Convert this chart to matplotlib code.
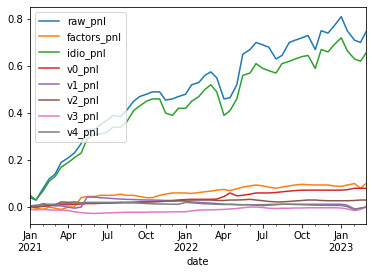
import matplotlib
matplotlib.use("Agg")
import matplotlib.pyplot as plt
import matplotlib.dates as mdates
import matplotlib.ticker as mticker
import numpy as np
import pandas as pd

# semi-monthly sample dates
dates = pd.to_datetime([
    "2021-01-01", "2021-01-15", "2021-02-01", "2021-02-15", "2021-03-01", "2021-03-15",
    "2021-04-01", "2021-04-15", "2021-05-01", "2021-05-15", "2021-06-01", "2021-06-15",
    "2021-07-01", "2021-07-15", "2021-08-01", "2021-08-15", "2021-09-01", "2021-09-15",
    "2021-10-01", "2021-10-15", "2021-11-01", "2021-11-15", "2021-12-01", "2021-12-15",
    "2022-01-01", "2022-01-15", "2022-02-01", "2022-02-15", "2022-03-01", "2022-03-15",
    "2022-04-01", "2022-04-15", "2022-05-01", "2022-05-15", "2022-06-01", "2022-06-15",
    "2022-07-01", "2022-07-15", "2022-08-01", "2022-08-15", "2022-09-01", "2022-09-15",
    "2022-10-01", "2022-10-15", "2022-11-01", "2022-11-15", "2022-12-01", "2022-12-15",
    "2023-01-01", "2023-01-15", "2023-02-01", "2023-02-15", "2023-02-28",
])

raw_pnl = [0.04, 0.03, 0.08, 0.12, 0.14, 0.19, 0.21, 0.23, 0.27, 0.33, 0.33, 0.35,
           0.37, 0.39, 0.385, 0.41, 0.45, 0.47, 0.48, 0.49, 0.49, 0.455, 0.46, 0.47,
           0.48, 0.52, 0.53, 0.56, 0.575, 0.55, 0.46, 0.465, 0.52, 0.65, 0.67, 0.70,
           0.69, 0.68, 0.63, 0.645, 0.70, 0.71, 0.72, 0.73, 0.67, 0.75, 0.74, 0.77,
           0.81, 0.75, 0.71, 0.70, 0.745]
factors_pnl = [0.0, -0.005, -0.01, 0.0, -0.005, -0.01, 0.0, 0.0, 0.04, 0.045, 0.045, 0.05,
               0.05, 0.05, 0.055, 0.05, 0.05, 0.045, 0.04, 0.04, 0.05, 0.055, 0.06, 0.06,
               0.06, 0.058, 0.062, 0.065, 0.068, 0.072, 0.075, 0.07, 0.078, 0.085, 0.09, 0.094,
               0.09, 0.085, 0.08, 0.085, 0.09, 0.094, 0.097, 0.095, 0.094, 0.094, 0.094, 0.09,
               0.088, 0.094, 0.10, 0.08, 0.10]
idio_pnl = [0.05, 0.03, 0.07, 0.11, 0.13, 0.17, 0.19, 0.21, 0.23, 0.29, 0.31, 0.31,
            0.32, 0.34, 0.34, 0.36, 0.41, 0.43, 0.45, 0.46, 0.46, 0.40, 0.39, 0.42,
            0.42, 0.45, 0.47, 0.50, 0.52, 0.49, 0.39, 0.41, 0.46, 0.56, 0.57, 0.61,
            0.59, 0.58, 0.57, 0.61, 0.62, 0.63, 0.64, 0.645, 0.59, 0.67, 0.66, 0.69,
            0.72, 0.665, 0.63, 0.62, 0.655]
v0_pnl = [0.0, 0.0, 0.003, 0.005, 0.008, 0.01, 0.01, 0.012, 0.013, 0.015, 0.015, 0.016,
          0.018, 0.018, 0.02, 0.02, 0.02, 0.022, 0.022, 0.024, 0.025, 0.027, 0.028, 0.03,
          0.032, 0.033, 0.033, 0.033, 0.033, 0.034, 0.045, 0.06, 0.048, 0.05, 0.055, 0.06,
          0.06, 0.06, 0.062, 0.065, 0.068, 0.07, 0.072, 0.072, 0.072, 0.072, 0.072, 0.072,
          0.072, 0.074, 0.08, 0.08, 0.08]
v1_pnl = [-0.005, 0.005, 0.015, 0.01, 0.005, 0.005, 0.0, -0.005, 0.0, 0.043, 0.042, 0.04,
          0.038, 0.036, 0.034, 0.033, 0.032, 0.031, 0.03, 0.03, 0.029, 0.028, 0.027, 0.027,
          0.025, 0.022, 0.02, 0.018, 0.017, 0.015, 0.012, 0.012, 0.011, 0.01, 0.01, 0.008,
          0.006, 0.008, 0.01, 0.012, 0.012, 0.012, 0.012, 0.012, 0.012, 0.012, 0.012, 0.012,
          0.012, 0.008, -0.008, -0.005, 0.0]
v2_pnl = [0.005, 0.0, 0.005, 0.008, 0.01, 0.022, 0.02, 0.022, 0.018, 0.018, 0.017, 0.016,
          0.017, 0.018, 0.018, 0.019, 0.02, 0.02, 0.022, 0.022, 0.023, 0.025, 0.026, 0.027,
          0.03, 0.03, 0.03, 0.03, 0.03, 0.028, 0.028, 0.03, 0.03, 0.031, 0.033, 0.03,
          0.027, 0.024, 0.022, 0.022, 0.024, 0.026, 0.028, 0.03, 0.03, 0.028, 0.027, 0.027,
          0.027, 0.027, 0.028, 0.03, 0.03]
v3_pnl = [-0.01, -0.012, -0.01, -0.012, -0.013, -0.013, -0.015, -0.02, -0.024, -0.026, -0.027, -0.026,
          -0.025, -0.024, -0.023, -0.022, -0.022, -0.022, -0.022, -0.021, -0.021, -0.021, -0.02, -0.02,
          -0.02, -0.016, -0.013, -0.012, -0.012, -0.011, -0.01, -0.008, -0.006, -0.003, 0.0, 0.0,
          -0.002, -0.005, -0.006, -0.005, -0.005, -0.004, -0.004, -0.003, -0.003, -0.003, -0.003, -0.003,
          -0.004, -0.008, -0.015, -0.01, 0.0]
v4_pnl = [0.005, 0.008, 0.01, 0.012, 0.012, 0.015, 0.015, 0.016, 0.018, 0.02, 0.02, 0.02,
          0.02, 0.02, 0.02, 0.019, 0.018, 0.017, 0.015, 0.014, 0.013, 0.013, 0.012, 0.012,
          0.02, 0.018, 0.016, 0.014, 0.013, 0.012, 0.011, 0.011, 0.01, 0.01, 0.01, 0.01,
          0.01, 0.011, 0.012, 0.012, 0.012, 0.011, 0.01, 0.009, 0.008, 0.008, 0.007, 0.007,
          0.007, 0.002, -0.01, -0.005, 0.0]

series = {
    "raw_pnl": raw_pnl, "factors_pnl": factors_pnl, "idio_pnl": idio_pnl,
    "v0_pnl": v0_pnl, "v1_pnl": v1_pnl, "v2_pnl": v2_pnl, "v3_pnl": v3_pnl, "v4_pnl": v4_pnl,
}

fig = plt.figure(figsize=(372 / 72, 274 / 72), dpi=72)
ax = fig.add_axes([30 / 372, 1 - 224 / 274, 336 / 372, 217 / 274])

for name, vals in series.items():
    ax.plot(dates, vals, label=name, linewidth=1.5)

ax.set_xlim(dates[0], dates[-1])
ax.set_ylim(-0.072, 0.851)
ax.yaxis.set_major_locator(mticker.MultipleLocator(0.2))
ax.yaxis.set_major_formatter(mticker.FormatStrFormatter("%.1f"))

def fmt(x, pos):
    d = mdates.num2date(x)
    if d.month == 1:
        return d.strftime("%b") + "\n" + d.strftime("%Y")
    return d.strftime("%b")

ax.xaxis.set_major_locator(mdates.MonthLocator(bymonth=[1, 4, 7, 10]))
ax.xaxis.set_major_formatter(mticker.FuncFormatter(fmt))
ax.xaxis.set_minor_locator(mdates.MonthLocator())
ax.xaxis.set_minor_formatter(mticker.NullFormatter())
ax.set_xlabel("date")
ax.legend(loc="upper left")

fig.savefig("out.png", dpi=72)
